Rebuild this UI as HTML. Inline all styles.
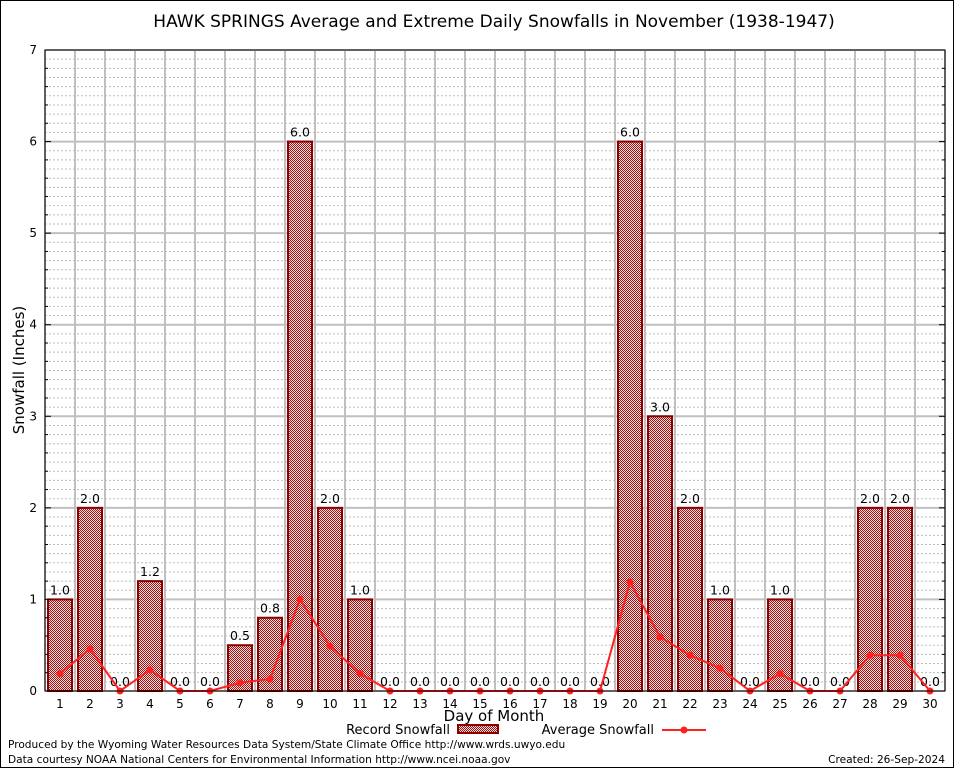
<!DOCTYPE html>
<html><head><meta charset="utf-8"><style>
body{margin:0;background:#fff;font-family:"DejaVu Sans","Liberation Sans",sans-serif}
svg text{font-family:"DejaVu Sans","Liberation Sans",sans-serif}
</style></head><body>
<svg id="c" width="954" height="768">
<defs><pattern id="hatch" width="2" height="2" patternUnits="userSpaceOnUse">
<rect width="2" height="2" fill="#f6dede"/><rect width="1" height="1" fill="#9a1414"/><rect x="1" y="1" width="1" height="1" fill="#9a1414"/></pattern></defs>
<rect x="0.5" y="0.5" width="953" height="767" fill="#fff" stroke="#000"/>
<text x="494" y="27" font-size="17" text-anchor="middle">HAWK SPRINGS Average and Extreme Daily Snowfalls in November (1938-1947)</text>
<g id="grid"></g><g id="bars"></g><g id="line"></g><g id="axes"></g>
<text x="24" y="370" font-size="15" text-anchor="middle" transform="rotate(-90 24 370)">Snowfall (Inches)</text>
<text x="494" y="721" font-size="15" text-anchor="middle">Day of Month</text>
<g><text x="450" y="734" font-size="13" text-anchor="end">Record Snowfall</text><rect x="458" y="725" width="40" height="8" fill="url(#hatch)" stroke="#8b0000" stroke-width="2"/></g>
<g><text x="654" y="734" font-size="13" text-anchor="end">Average Snowfall</text><line x1="662" y1="730" x2="706" y2="730" stroke="#ff2020" stroke-width="2"/><circle cx="684" cy="730" r="3.5" fill="#ff2020"/></g>
<text x="8" y="748" font-size="10.6">Produced by the Wyoming Water Resources Data System/State Climate Office http://www.wrds.uwyo.edu</text>
<text x="8" y="763" font-size="10.6">Data courtesy NOAA National Centers for Environmental Information http://www.ncei.noaa.gov</text>
<text x="945" y="763" font-size="10.6" text-anchor="end">Created: 26-Sep-2024</text>
</svg>
<script>
const days=[1,2,3,4,5,6,7,8,9,10,11,12,13,14,15,16,17,18,19,20,21,22,23,24,25,26,27,28,29,30];
const recordSnow=[1.0,2.0,0,1.2,0,0,0.5,0.8,6.0,2.0,1.0,0,0,0,0,0,0,0,0,6.0,3.0,2.0,1.0,0,1.0,0,0,2.0,2.0,0];
const avgSnow=[0.19,0.46,0,0.23,0,0,0.09,0.13,1.0,0.49,0.19,0,0,0,0,0,0,0,0,1.19,0.59,0.39,0.25,0,0.19,0,0,0.39,0.39,0];
const yTicks=[0,1,2,3,4,5,6,7];
const NS='http://www.w3.org/2000/svg';
const X0=45,X1=945,Y0=691,Y1=50,YMAX=7;
const slot=(X1-X0)/days.length;
const xc=i=>X0+slot*(i+0.5);
const y=v=>Y0-(Y0-Y1)*v/YMAX;
function mk(tag,at,parent){const e=document.createElementNS(NS,tag);for(const k in at)e.setAttribute(k,at[k]);document.getElementById(parent).appendChild(e);return e;}
for(let v=0;v<=YMAX*10;v++){if(v%10===0)continue;const l=mk('line',{x1:X0,x2:X1,y1:y(v/10),y2:y(v/10),stroke:'#bbb','stroke-width':1,'stroke-dasharray':'2,2'},'grid');

}
yTicks.forEach(t=>{const l=mk('line',{x1:X0,x2:X1,y1:y(t),y2:y(t),stroke:'#c0c0c0','stroke-width':2},'grid');


const tx=mk('text',{x:X0-8,y:y(t)+4,'font-size':12,'text-anchor':'end','font-family':'Liberation Serif'},'axes');tx.textContent=t;

});
for(let i=0;i<=days.length;i++){const l=mk('line',{x1:X0+slot*i,x2:X0+slot*i,y1:Y1,y2:Y0,stroke:'#c0c0c0','stroke-width':2},'grid');

}
days.forEach((d,i)=>{const v=recordSnow[i];
if(v>0){const r=mk('rect',{x:xc(i)-12,y:y(v),width:24,height:Y0-y(v),fill:'url(#hatch)',stroke:'#8b0000','stroke-width':2},'bars');

}
const t=mk('text',{x:xc(i),y:y(v)-5,'font-size':12.5,'text-anchor':'middle'},'bars');t.textContent=v.toFixed(1);


const xl=mk('text',{x:xc(i),y:Y0+17,'font-size':12,'text-anchor':'middle','font-family':'Liberation Serif'},'axes');xl.textContent=d;

});
const pl=mk('polyline',{points:avgSnow.map((v,i)=>xc(i)+','+y(v)).join(' '),fill:'none',stroke:'#ff2020','stroke-width':2},'line');


avgSnow.forEach((v,i)=>{const c=mk('circle',{cx:xc(i),cy:y(v),r:3.5,fill:'#ff2020'},'line');

});
const ax=mk('rect',{x:X0,y:Y1,width:X1-X0,height:Y0-Y1,fill:'none',stroke:'#000','stroke-width':1},'axes');


for(let v=0;v<=YMAX*5;v++){const len=v%5===0?6:3;
const a=mk('line',{x1:X0,x2:X0+len,y1:y(v/5),y2:y(v/5),stroke:'#000'},'axes');


const b=mk('line',{x1:X1-len,x2:X1,y1:y(v/5),y2:y(v/5),stroke:'#000'},'axes');

}
</script>
</body></html>
